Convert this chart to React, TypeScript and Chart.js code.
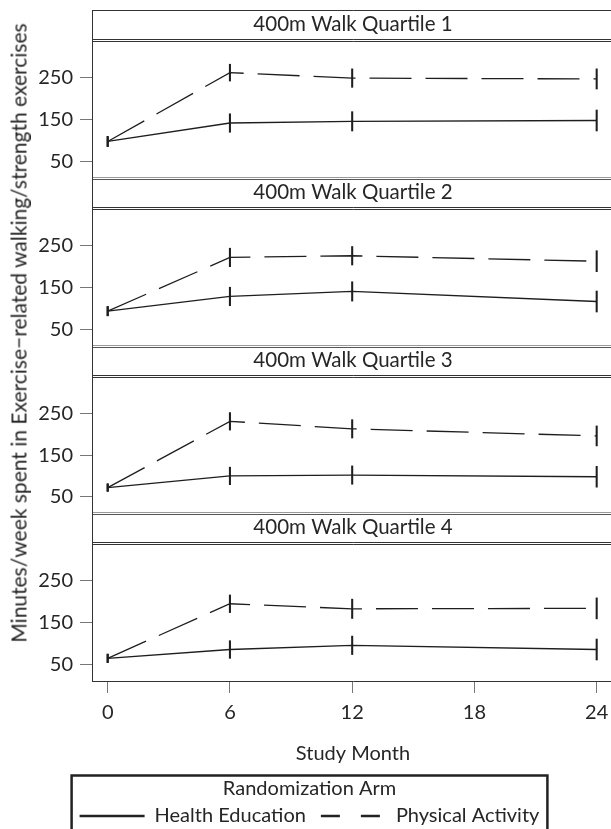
import React, { useEffect, useRef } from "react";
import { Chart, registerables } from "chart.js";

Chart.register(...registerables);

// ---- data ----
const months = [0, 6, 12, 24];
const xTickValues = [0, 6, 12, 18, 24];
const yTickValues = [50, 150, 250];
const quartileTitles = [
  "400m Walk Quartile 1",
  "400m Walk Quartile 2",
  "400m Walk Quartile 3",
  "400m Walk Quartile 4",
];
const seriesNames = ["Health Education", "Physical Activity"];

const healthEdQ1 = [98, 142, 146, 148];
const physActQ1 = [98, 262, 249, 247];
const healthEdErrQ1 = [12, 22, 23, 25];
const physActErrQ1 = [12, 20, 22, 24];

const healthEdQ2 = [94, 129, 141, 117];
const physActQ2 = [94, 222, 226, 213];
const healthEdErrQ2 = [11, 22, 23, 25];
const physActErrQ2 = [11, 22, 22, 25];

const healthEdQ3 = [72, 100, 102, 98];
const physActQ3 = [72, 231, 213, 196];
const healthEdErrQ3 = [9, 21, 22, 25];
const physActErrQ3 = [9, 21, 22, 24];

const healthEdQ4 = [65, 86, 96, 86];
const physActQ4 = [65, 195, 183, 184];
const healthEdErrQ4 = [10, 21, 22, 25];
const physActErrQ4 = [10, 21, 23, 25];

const HE = [healthEdQ1, healthEdQ2, healthEdQ3, healthEdQ4];
const PA = [physActQ1, physActQ2, physActQ3, physActQ4];
const HE_ERR = [healthEdErrQ1, healthEdErrQ2, healthEdErrQ3, healthEdErrQ4];
const PA_ERR = [physActErrQ1, physActErrQ2, physActErrQ3, physActErrQ4];

// ---- layout / style ----
const PANEL_TOPS = [10, 178, 346, 513];
const PANEL_BOTTOMS = [178, 346, 513, 681];
const CANVAS_W = 617;
const FONT = 'Lato, "DejaVu Sans", sans-serif';
const INK = "#1e1e1e";
const TEXT = "#262626";
const FRAME = "#333333";
const TICKC = "#777777";
const FS = 20;

function Panel({ index }: { index: number }) {
  const ref = useRef<HTMLCanvasElement>(null);
  const last = index === 3;
  const top = PANEL_TOPS[index] - 2;
  const height = last ? 330 : PANEL_BOTTOMS[index] - top + 3;

  useEffect(() => {
    const he = HE[index];
    const pa = PA[index];
    const heE = HE_ERR[index];
    const paE = PA_ERR[index];
    const lineData = (v: number[]) => months.map((m, j) => ({ x: m, y: v[j] }));
    const barData = (v: number[], e: number[]) =>
      months.map((m, j) => ({ x: m, y: [v[j] - e[j], v[j] + e[j]] }));

    const framePlugin = {
      id: "frame" + index,
      afterDraw(chart: any) {
        const { ctx, chartArea: a } = chart;
        ctx.save();
        const L = Math.round(a.left) + 0.5;
        const R = a.right;
        ctx.lineWidth = 1;
        ctx.strokeStyle = FRAME;
        ctx.beginPath();
        if (index === 0) {
          ctx.moveTo(L, 2.5);
          ctx.lineTo(R, 2.5);
        }
        ctx.moveTo(L, index === 0 ? 2 : 0);
        ctx.lineTo(L, a.top);
        ctx.moveTo(L, a.top - 2.5);
        ctx.lineTo(R, a.top - 2.5);
        ctx.moveTo(L, a.top - 0.5);
        ctx.lineTo(R, a.top - 0.5);
        ctx.stroke();
        if (!last) {
          ctx.strokeStyle = "#999999";
          ctx.beginPath();
          ctx.moveTo(L - 0.5, a.bottom - 0.5);
          ctx.lineTo(R, a.bottom - 0.5);
          ctx.stroke();
          ctx.strokeStyle = "#555555";
          ctx.beginPath();
          ctx.moveTo(L - 0.5, a.bottom + 1.5);
          ctx.lineTo(R, a.bottom + 1.5);
          ctx.stroke();
        }
        ctx.fillStyle = TEXT;
        ctx.font = `20.5px ${FONT}`;
        ctx.textAlign = "center";
        ctx.textBaseline = "middle";
        ctx.fillText(quartileTitles[index], (a.left + a.right) / 2, a.top - 17.5);
        if (last && chart.legend && chart.legend.legendHitBoxes) {
          const hb = chart.legend.legendHitBoxes;
          const bl = hb[0].left - 8;
          const br = hb[hb.length - 1].left + hb[hb.length - 1].width + 8;
          ctx.strokeStyle = "#222222";
          ctx.lineWidth = 2.5;
          ctx.strokeRect(bl, chart.legend.top + 1.5, br - bl, chart.height + 10);
        }
        ctx.restore();
      },
    };

    const font = { family: FONT, size: FS };
    const chart = new Chart(ref.current as HTMLCanvasElement, {
      type: "line",
      data: {
        datasets: [
          {
            type: "line",
            label: seriesNames[0],
            data: lineData(he),
            borderColor: INK,
            borderWidth: 1.3,
            pointRadius: 0,
            tension: 0,
            fill: false,
          },
          {
            type: "line",
            label: seriesNames[1],
            data: lineData(pa),
            borderColor: INK,
            borderWidth: 1.3,
            borderDash: [42, 14],
            pointRadius: 0,
            tension: 0,
            fill: false,
          },
          {
            type: "bar",
            label: "err0",
            data: barData(he, heE),
            backgroundColor: INK,
            barThickness: 1.4,
            grouped: false,
            borderWidth: 0,
          },
          {
            type: "bar",
            label: "err1",
            data: barData(pa, paE),
            backgroundColor: INK,
            barThickness: 1.4,
            grouped: false,
            borderWidth: 0,
          },
        ] as any,
      },
      options: {
        animation: false,
        responsive: false,
        events: [],
        layout: { padding: { left: 5, right: 3, top: 34, bottom: last ? 5 : 3 } },
        scales: {
          x: {
            type: "linear",
            min: -0.77,
            max: 24.85,
            offset: false,
            display: last,
            afterBuildTicks: (s: any) => {
              s.ticks = xTickValues.map((v) => ({ value: v }));
            },
            afterFit: (s: any) => {
              s.paddingLeft = 0;
              s.paddingRight = 0;
              if (last) s.height = 93;
            },
            grid: { drawOnChartArea: false, tickLength: 12, color: TICKC, offset: false },
            border: { display: true, color: FRAME, width: 1 },
            ticks: { padding: 8, font, color: TEXT, maxRotation: 0, autoSkip: false },
            title: {
              display: last,
              text: "Study Month",
              font: { family: FONT, size: FS, lineHeight: 1.2 },
              color: TEXT,
              padding: { top: 0, bottom: 8.6 },
            },
          },
          y: {
            type: "linear",
            min: 11,
            max: 335,
            afterBuildTicks: (s: any) => {
              s.ticks = yTickValues.map((v) => ({ value: v }));
            },
            afterFit: (s: any) => {
              s.width = 87;
              s.paddingTop = 0;
              s.paddingBottom = 0;
            },
            grid: { drawOnChartArea: false, tickLength: 12, color: TICKC },
            border: { display: true, color: FRAME, width: 1 },
            ticks: { padding: 7, font, color: TEXT },
          },
        },
        plugins: {
          tooltip: { enabled: false },
          legend: {
            display: last,
            position: "bottom",
            align: "center",
            title: {
              display: true,
              text: "Randomization Arm",
              color: TEXT,
              font: { family: FONT, size: FS, lineHeight: 1 },
              padding: { top: 5, bottom: -8 },
            },
            labels: {
              font,
              color: TEXT,
              padding: 15,
              boxWidth: 65,
              boxHeight: FS,
              usePointStyle: true,
              pointStyle: "line",
              pointStyleWidth: 65,
              generateLabels: () => [
                {
                  text: seriesNames[0],
                  fillStyle: "rgba(0,0,0,0)",
                  strokeStyle: "#222222",
                  lineWidth: 2.5,
                  lineDash: [],
                  pointStyle: "line",
                  datasetIndex: 0,
                  fontColor: TEXT,
                },
                {
                  text: seriesNames[1],
                  fillStyle: "rgba(0,0,0,0)",
                  strokeStyle: "#222222",
                  lineWidth: 2.5,
                  lineDash: [19, 21],
                  pointStyle: "line",
                  datasetIndex: 1,
                  fontColor: TEXT,
                },
              ],
            },
          },
        },
      } as any,
      plugins: [framePlugin],
    });
    return () => chart.destroy();
  }, [index]);

  return (
    <canvas
      ref={ref}
      width={CANVAS_W}
      height={height}
      style={{ position: "absolute", left: 0, top, display: "block" }}
    />
  );
}

export default function App() {
  return (
    <div
      style={{
        position: "absolute",
        left: 0,
        top: 0,
        width: 611,
        height: 829,
        overflow: "hidden",
        background: "#ffffff",
      }}
    >
      {[0, 1, 2, 3].map((i) => (
        <Panel key={i} index={i} />
      ))}
      <div
        style={{
          position: "absolute",
          left: 18,
          top: 333,
          transform: "translate(-50%, -50%) rotate(-90deg)",
          fontFamily: FONT,
          fontSize: 21,
          lineHeight: 1,
          color: TEXT,
          whiteSpace: "nowrap",
        }}
      >
        Minutes/week spent in Exercise−related walking/strength exercises
      </div>
    </div>
  );
}
